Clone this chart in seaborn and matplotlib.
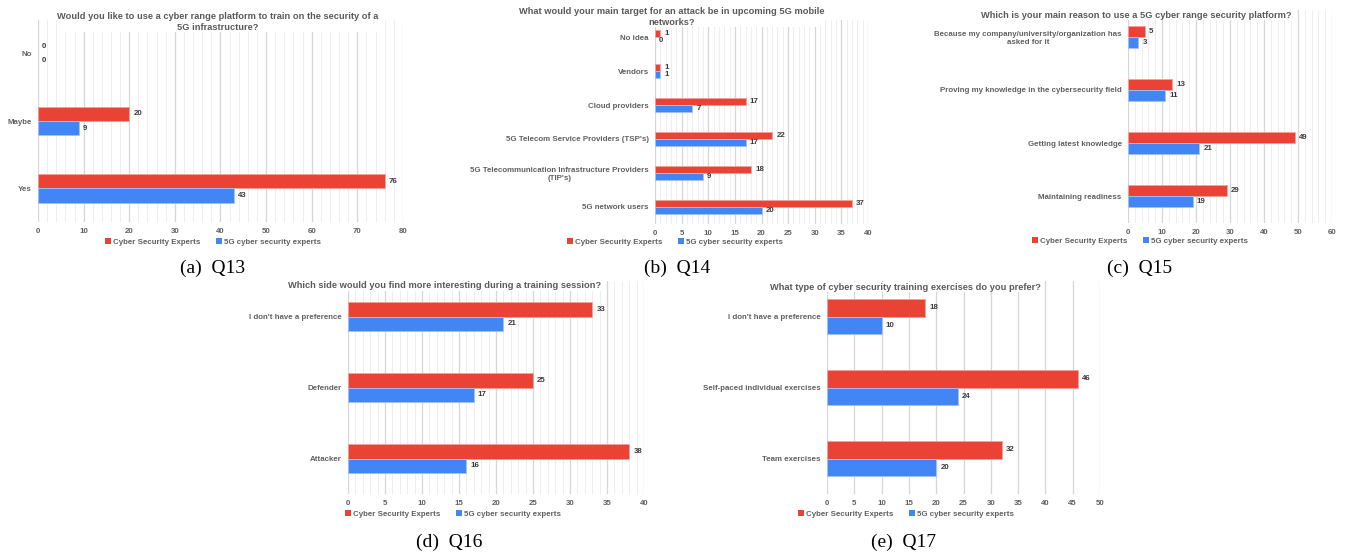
import numpy as np
import pandas as pd
import matplotlib.pyplot as plt
import seaborn as sns
from matplotlib.patches import Patch
from matplotlib.ticker import MultipleLocator, FixedLocator, NullLocator

# ==========================================
# DATA
# ==========================================

groups = ["Cyber Security Experts", "5G cyber security experts"]
colors = ["#EA4335", "#4285F4"]
edge_colors = ["#F3A29B", "#A3C2F8"]

q13_title = "Would you like to use a cyber range platform to train on the security of a\n5G infrastructure?"
q13_answers = ["No", "Maybe", "Yes"]
q13_experts = [0, 20, 76]
q13_5g = [0, 9, 43]

q14_title = "What would your main target for an attack be in upcoming 5G mobile\nnetworks?"
q14_answers = ["No idea", "Vendors", "Cloud providers",
               "5G Telecom Service Providers (TSP's)",
               "5G Telecommunication Infrastructure Providers\n(TIP's)",
               "5G network users"]
q14_experts = [1, 1, 17, 22, 18, 37]
q14_5g = [0, 1, 7, 17, 9, 20]

q15_title = "Which is your main reason to use a 5G cyber range security platform?"
q15_answers = ["Because my company/university/organization has\nasked for it",
               "Proving my knowledge in the cybersecurity field",
               "Getting latest knowledge", "Maintaining readiness"]
q15_experts = [5, 13, 49, 29]
q15_5g = [3, 11, 21, 19]

q16_title = "Which side would you find more interesting during a training session?"
q16_answers = ["I don't have a preference", "Defender", "Attacker"]
q16_experts = [33, 25, 38]
q16_5g = [21, 17, 16]

q17_title = "What type of cyber security training exercises do you prefer?"
q17_answers = ["I don't have a preference", "Self-paced individual exercises", "Team exercises"]
q17_experts = [18, 46, 32]
q17_5g = [10, 24, 20]

# ==========================================
# LAYOUT (pixel boxes in a 1345x556 figure)
# ==========================================

W, H = 1345, 556

panels = [
    dict(title=q13_title, answers=q13_answers, a=q13_experts, b=q13_5g,
         box=(38, 403, 20, 222), xmax=80, major=10, minor=2, width=0.43,
         title_xy=(218, 22), legend_xy=(213, 242), caption="(a)  Q13", caption_xy=(213, 268)),
    dict(title=q14_title, answers=q14_answers, a=q14_experts, b=q14_5g,
         box=(655, 868, 20, 224), xmax=40, major=5, minor=1, width=0.42,
         title_xy=(672, 17), legend_xy=(675, 242), caption="(b)  Q14", caption_xy=(677, 268)),
    dict(title=q15_title, answers=q15_answers, a=q15_experts, b=q15_5g,
         box=(1128, 1332, 10, 223), xmax=60, major=10, minor=2, width=0.41,
         title_xy=(1136, 15), legend_xy=(1140, 241), caption="(c)  Q15", caption_xy=(1140, 268)),
    dict(title=q16_title, answers=q16_answers, a=q16_experts, b=q16_5g,
         box=(348, 644, 281, 494), xmax=40, major=5, minor=1, width=0.42,
         title_xy=(445, 286), legend_xy=(453, 514), caption="(d)  Q16", caption_xy=(449, 542)),
    dict(title=q17_title, answers=q17_answers, a=q17_experts, b=q17_5g,
         box=(827, 1100, 281, 494), xmax=50, major=5, minor=None, width=0.5,
         title_xy=(905, 287), legend_xy=(906, 514), caption="(e)  Q17", caption_xy=(904, 542)),
]

sns.set_style("white")
plt.rcParams["font.family"] = ["Liberation Sans", "DejaVu Sans"]

fig = plt.figure(figsize=(W / 100, H / 100), dpi=100)

label_color = "#606060"
value_color = "#3c3c3c"
fs = 5.7


def px_rect(left, right, top, bottom):
    return [left / W, 1 - bottom / H, (right - left) / W, (bottom - top) / H]


for p in panels:
    ax = fig.add_axes(px_rect(*p["box"]))

    df = pd.DataFrame({
        "answer": p["answers"] * 2,
        "count": p["a"] + p["b"],
        "group": [groups[0]] * len(p["answers"]) + [groups[1]] * len(p["answers"]),
    })

    sns.barplot(data=df, y="answer", x="count", hue="group", order=p["answers"],
                hue_order=groups, palette=colors, orient="h", width=p["width"],
                saturation=1, legend=False, ax=ax, zorder=3)

    for cont, ec in zip(ax.containers, edge_colors):
        for bar in cont:
            bar.set_edgecolor(ec)
            bar.set_linewidth(0.6 if bar.get_width() > 0 else 0)
        ax.bar_label(cont, padding=3, fontsize=fs, fontweight="bold", color=value_color)

    n = len(p["answers"])
    ax.set_xlim(0, p["xmax"])
    ax.set_ylim(n - 0.5, -0.5)
    ax.xaxis.set_major_locator(MultipleLocator(p["major"]))
    if p["minor"]:
        ax.xaxis.set_minor_locator(MultipleLocator(p["minor"]))
    else:
        ax.xaxis.set_minor_locator(NullLocator())
    ax.grid(True, axis="x", which="major", color="#d6d6d6", linewidth=0.9, zorder=0)
    ax.grid(True, axis="x", which="minor", color="#eeeeee", linewidth=0.7, zorder=0)
    ax.grid(False, axis="y")
    ax.set_axisbelow(True)

    # small marks on the category boundaries
    ax.yaxis.set_minor_locator(FixedLocator(np.arange(-0.5, n, 1.0)))
    ax.tick_params(axis="y", which="major", length=0, pad=4.5)
    ax.tick_params(axis="y", which="minor", length=3, color="#cccccc", width=0.6)
    ax.tick_params(axis="x", which="both", length=0, pad=4)

    for lab in ax.get_yticklabels():
        lab.set_fontsize(fs)
        lab.set_fontweight("bold")
        lab.set_color(label_color)
        lab.set_multialignment("center")
    for lab in ax.get_xticklabels():
        lab.set_fontsize(fs)
        lab.set_fontweight("bold")
        lab.set_color(label_color)

    ax.set_xlabel("")
    ax.set_ylabel("")
    for s in ax.spines.values():
        s.set_visible(False)

    tx, ty = p["title_xy"]
    fig.text(tx / W, 1 - ty / H, p["title"], ha="center", va="center",
             fontsize=6.7, fontweight="bold", color="#5a5a5a", linespacing=1.2,
             bbox=dict(facecolor="white", edgecolor="none", pad=0.5), zorder=5)

    handles = [Patch(facecolor=c, edgecolor="none") for c in colors]
    lx, ly = p["legend_xy"]
    fig.legend(handles, groups, loc="center", bbox_to_anchor=(lx / W, 1 - ly / H),
               ncol=2, frameon=False, prop={"size": fs, "weight": "bold"},
               labelcolor=label_color, handlelength=0.8, handleheight=0.8,
               handletextpad=0.2, columnspacing=2.0, borderpad=0, borderaxespad=0)

    cx, cy = p["caption_xy"]
    fig.text(cx / W, 1 - cy / H, p["caption"], ha="center", va="center",
             fontsize=14, family="Liberation Serif", color="black")

fig.savefig("out.png", dpi=100)
